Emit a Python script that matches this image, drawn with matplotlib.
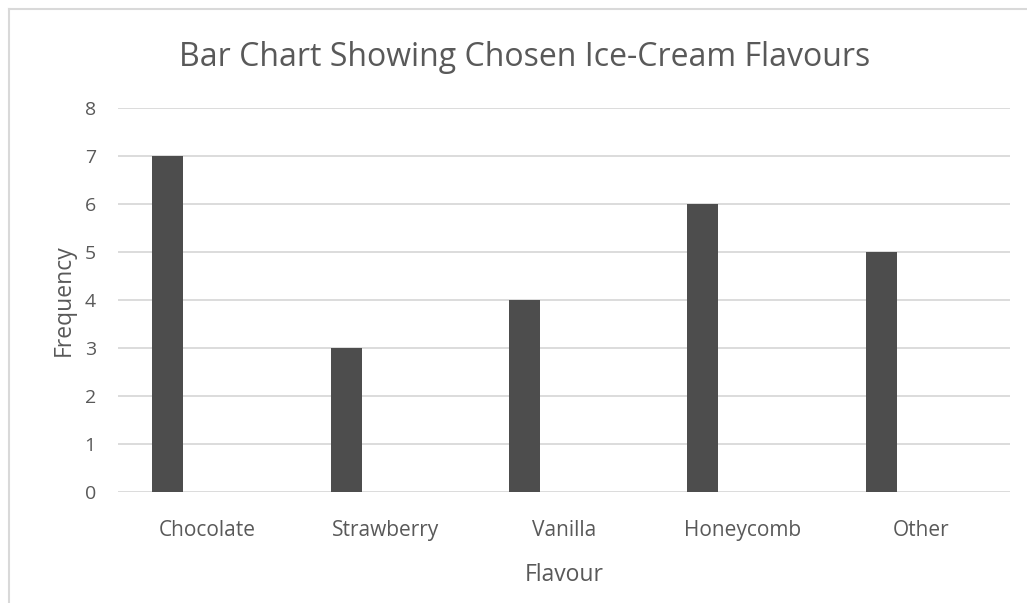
import matplotlib
matplotlib.use("Agg")
import matplotlib.pyplot as plt
import numpy as np
from matplotlib.lines import Line2D

flavours = ["Chocolate", "Strawberry", "Vanilla", "Honeycomb", "Other"]
frequency = [7, 3, 4, 6, 5]

TEXT = "#595959"
BAR = "#4d4d4d"
GRID = "#d9d9d9"

plt.rcParams["font.family"] = ["Open Sans", "DejaVu Sans"]

fig = plt.figure(figsize=(10.27, 6.03), dpi=100)
ax = fig.add_axes([118 / 1027, 111 / 603, 892 / 1027, 384 / 603])

x = np.arange(len(flavours))
# bars sit left of the category centre, like a two-series cluster with one empty series
ax.bar(x - 0.221, frequency, width=0.174, color=BAR, zorder=3)

ax.set_xlim(-0.5, len(flavours) - 0.5)
ax.set_ylim(0, 8)
ax.set_yticks(range(0, 9))
ax.set_xticks(x)
ax.set_xticklabels(flavours)
ax.grid(axis="y", color=GRID, linewidth=1.3, zorder=0)
ax.tick_params(axis="both", length=0, labelcolor=TEXT)
ax.tick_params(axis="y", pad=16, labelsize=14)
ax.tick_params(axis="x", pad=20, labelsize=15)
for s in ax.spines.values():
    s.set_visible(False)

ax.set_xlabel("Flavour", fontsize=16.5, color=TEXT, labelpad=16)
ax.set_ylabel("Frequency", fontsize=16.5, color=TEXT, labelpad=6)

fig.text(525 / 1027, 1 - 57 / 603, "Bar Chart Showing Chosen Ice-Cream Flavours",
         ha="center", va="center", fontsize=23, color=TEXT)

# light frame around the chart area
fig.add_artist(Line2D([9 / 1027, 1], [1 - 9 / 603, 1 - 9 / 603], color=GRID, linewidth=1.5,
                      transform=fig.transFigure))
fig.add_artist(Line2D([9 / 1027, 9 / 1027], [0, 1 - 9 / 603], color=GRID, linewidth=1.5,
                      transform=fig.transFigure))

fig.savefig("out.png", dpi=100, facecolor="white")
